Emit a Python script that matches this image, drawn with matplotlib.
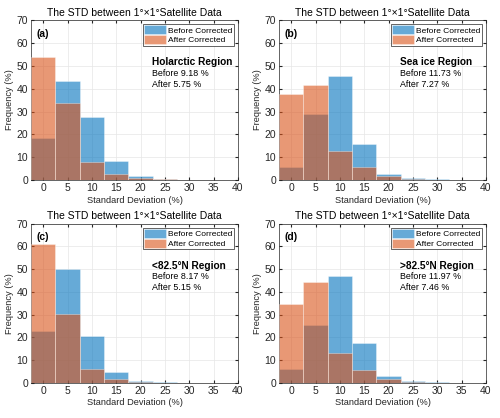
import numpy as np
import matplotlib.pyplot as plt

plt.rcParams['font.family'] = ['Liberation Sans', 'DejaVu Sans']

# bin centres (MATLAB-style histogram, bin width 5)
bin_centers = [0, 5, 10, 15, 20, 25, 30, 35]

before_a = [18.5, 43.5, 27.5, 8.3, 1.7, 0.4, 0.1, 0.0]
after_a = [53.7, 33.7, 8.0, 2.8, 1.0, 0.3, 0.05, 0.0]
before_b = [5.8, 29.0, 45.7, 15.6, 2.6, 0.9, 0.3, 0.05]
after_b = [37.8, 41.6, 12.6, 5.7, 1.8, 0.4, 0.05, 0.0]
before_c = [23.0, 50.0, 20.7, 5.0, 1.0, 0.3, 0.1, 0.0]
after_c = [61.0, 30.3, 6.3, 1.6, 0.5, 0.1, 0.0, 0.0]
before_d = [6.2, 25.5, 46.8, 17.5, 2.9, 0.9, 0.2, 0.0]
after_d = [34.5, 44.2, 13.0, 5.8, 1.6, 0.6, 0.0, 0.0]

panel_labels = ['(a)', '(b)', '(c)', '(d)']
region_names = ['Holarctic Region', 'Sea ice Region', '<82.5°N Region', '>82.5°N Region']
before_std = ['9.18', '11.73', '8.17', '11.97']
after_std = ['5.75', '7.27', '5.15', '7.46']

befores = [before_a, before_b, before_c, before_d]
afters = [after_a, after_b, after_c, after_d]

blue = (0.0, 0.447, 0.741)
orange = (0.851, 0.325, 0.098)

fig = plt.figure(figsize=(5.0, 4.18), dpi=100)
positions = [
    [0.062, 0.569, 0.414, 0.383],
    [0.558, 0.569, 0.414, 0.383],
    [0.062, 0.084, 0.414, 0.381],
    [0.558, 0.084, 0.414, 0.381],
]

for i in range(4):
    ax = fig.add_axes(positions[i])
    ax.bar(bin_centers, befores[i], width=5, color=blue, alpha=0.6,
           edgecolor='white', linewidth=0.4, label='Before Corrected', zorder=2)
    ax.bar(bin_centers, afters[i], width=5, color=orange, alpha=0.6,
           edgecolor='white', linewidth=0.4, label='After Corrected', zorder=3)

    ax.set_xlim(-2.5, 40)
    ax.set_ylim(0, 70)
    ax.set_xticks(np.arange(0, 41, 5))
    ax.set_yticks(np.arange(0, 71, 10))
    ax.grid(True, color='#e6e6e6', linewidth=0.5, zorder=0)
    ax.set_axisbelow(True)
    ax.tick_params(direction='in', length=2.5, labelsize=7.5, colors='#262626',
                   top=True, right=True, pad=2)
    for s in ax.spines.values():
        s.set_color('#262626')
        s.set_linewidth(0.5)

    ax.set_title('The STD between 1°×1°Satellite Data', fontsize=7.5, pad=3)
    ax.set_xlabel('Standard Deviation (%)', fontsize=6.7, color='#262626', labelpad=2)
    ax.set_ylabel('Frequency (%)', fontsize=6.7, color='#262626', labelpad=2)

    ax.legend(loc='upper right', fontsize=6, frameon=True, fancybox=False,
              edgecolor='#262626', framealpha=1, handlelength=2.6, handleheight=1.2,
              borderpad=0.15, labelspacing=0.1, handletextpad=0.3,
              borderaxespad=0.5).get_frame().set_linewidth(0.5)

    ax.text(0, 64, panel_labels[i], fontsize=7.5, fontweight='bold', ha='center', va='center')
    ax.text(22.3, 51.5, region_names[i], fontsize=7.3, fontweight='bold', va='center')
    ax.text(22.3, 46.8, 'Before ' + before_std[i] + ' %', fontsize=6.4, va='center')
    ax.text(22.3, 42.0, 'After ' + after_std[i] + ' %', fontsize=6.4, va='center')

fig.savefig('out.png', dpi=100)
